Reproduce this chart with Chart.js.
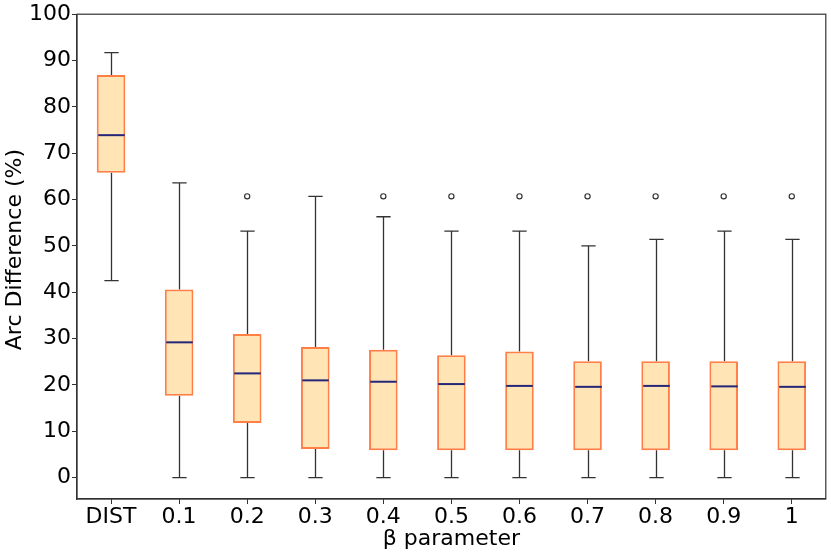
<!DOCTYPE html>
<html>
<head>
<meta charset="utf-8">
<script src="https://cdn.jsdelivr.net/npm/chart.js@4/dist/chart.umd.min.js"></script>
<style>
  html, body { margin: 0; padding: 0; background: #fff; }
  #wrap { width: 831px; height: 557px; }
</style>
</head>
<body>
<div id="wrap"><canvas id="chart" width="831" height="557"></canvas></div>
<script>
// box plot values
const categories = ["DIST", "0.1", "0.2", "0.3", "0.4", "0.5", "0.6", "0.7", "0.8", "0.9", "1"];
const whiskerLow = [42.5, 0, 0, 0, 0, 0, 0, 0, 0, 0, 0];
const q1 = [65.8, 17.7, 11.8, 6.2, 5.9, 5.9, 5.9, 5.9, 5.9, 5.9, 5.9];
const median = [73.9, 29.2, 22.5, 21.0, 20.7, 20.2, 19.8, 19.6, 19.8, 19.7, 19.6];
const q3 = [86.9, 40.6, 31.0, 28.2, 27.6, 26.4, 27.2, 25.1, 25.1, 25.1, 25.1];
const whiskerHigh = [91.7, 63.6, 53.2, 60.7, 56.3, 53.2, 53.2, 50.0, 51.4, 53.2, 51.4];
const outliers = [null, null, 60.7, null, 60.7, 60.7, 60.7, 60.7, 60.7, 60.7, 60.7];
const yTicks = [0, 10, 20, 30, 40, 50, 60, 70, 80, 90, 100];

const FONT = "'DejaVu Sans', sans-serif";
const LINE = "#333333";

//whiskers go under the boxes, medians and caps on top
const boxParts = {
    id: "boxParts",
    beforeDatasetsDraw(chart) {
        const ctx = chart.ctx, x = chart.scales.x, y = chart.scales.y;
        ctx.save();
        ctx.strokeStyle = LINE;
        ctx.lineWidth = 1.3;
        categories.forEach((c, i) => {
            const px = Math.round(x.getPixelForValue(i)) + 0.5;
            ctx.beginPath();
            ctx.moveTo(px, y.getPixelForValue(whiskerLow[i]));
            ctx.lineTo(px, y.getPixelForValue(q1[i]));
            ctx.moveTo(px, y.getPixelForValue(q3[i]));
            ctx.lineTo(px, y.getPixelForValue(whiskerHigh[i]));
            ctx.stroke();
        });
        ctx.restore();
    },
    afterDatasetsDraw(chart) {
        const ctx = chart.ctx, x = chart.scales.x, y = chart.scales.y;
        const bars = chart.getDatasetMeta(0).data;
        ctx.save();
        categories.forEach((c, i) => {
            const px = Math.round(x.getPixelForValue(i)) + 0.5;
            const w = bars[i].width;
            ctx.strokeStyle = LINE;
            ctx.lineWidth = 1.3;
            ctx.beginPath();
            [whiskerLow[i], whiskerHigh[i]].forEach(v => {
                const py = y.getPixelForValue(v);
                ctx.moveTo(px - w / 4, py);
                ctx.lineTo(px + w / 4, py);
            });
            ctx.stroke();
            ctx.strokeStyle = "#262678";
            ctx.lineWidth = 2;
            ctx.beginPath();
            const pm = y.getPixelForValue(median[i]);
            ctx.moveTo(px - w / 2 + 1, pm);
            ctx.lineTo(px + w / 2 - 1, pm);
            ctx.stroke();
        });
        ctx.restore();
    },
    afterDraw(chart) {
        const a = chart.chartArea, ctx = chart.ctx;
        ctx.save();
        ctx.strokeStyle = LINE;
        ctx.lineWidth = 1.2;
        ctx.strokeRect(a.left, a.top, a.right - a.left, a.bottom - a.top);
        ctx.restore();
    }
};

new Chart(document.getElementById("chart"), {
    type: "bar",
    data: {
        labels: categories,
        datasets: [{
            label: "box",
            data: q1.map((v, i) => [v, q3[i]]),
            backgroundColor: "#ffe4b5",
            borderColor: "#ff7f45",
            borderWidth: 2,
            borderSkipped: false,
            categoryPercentage: 1,
            barPercentage: 0.42
        }, {
            type: "line",
            label: "outliers",
            data: outliers,
            showLine: false,
            pointStyle: "circle",
            pointRadius: 2.6,
            pointBorderWidth: 1.2,
            pointBackgroundColor: "rgba(0,0,0,0)",
            pointBorderColor: "#333333"
        }]
    },
    options: {
        responsive: false,
        animation: false,
        layout: { padding: { top: 14, right: 5, left: 0, bottom: 0 } },
        plugins: { legend: { display: false }, tooltip: { enabled: false } },
        scales: {
            x: {
                offset: true,
                grid: { offset: false, drawOnChartArea: false, drawTicks: true, tickLength: 5, color: LINE },
                border: { display: true, color: LINE, width: 1.2 },
                ticks: { color: "#000", font: { family: FONT, size: 22 }, padding: 0 },
                title: { display: true, text: "β parameter", color: "#000", font: { family: FONT, size: 22 }, padding: { top: 0, bottom: 5 } },
                afterFit(scale) { scale.height = 58; }
            },
            y: {
                min: -4.6,
                max: 100,
                afterBuildTicks(scale) { scale.ticks = yTicks.map(v => ({ value: v })); },
                grid: { drawOnChartArea: false, drawTicks: true, tickLength: 5, color: LINE },
                border: { display: true, color: LINE, width: 1.2 },
                ticks: { color: "#000", font: { family: FONT, size: 22 }, padding: 1 },
                title: { display: true, text: "  Arc Difference (%)", color: "#000", font: { family: FONT, size: 22 }, padding: { top: 2, bottom: 0 } },
                afterFit(scale) { scale.width = 77; }
            }
        }
    },
    plugins: [boxParts]
});
</script>
</body>
</html>
